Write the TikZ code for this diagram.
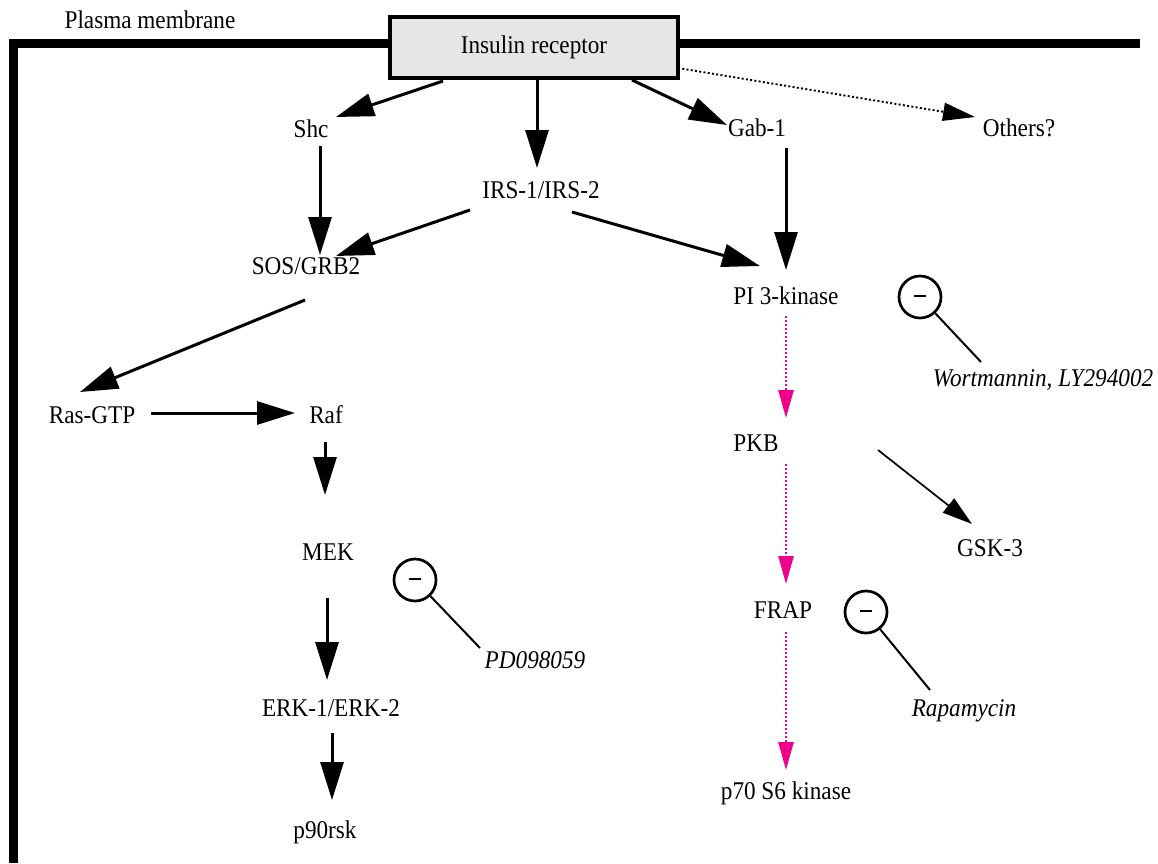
\documentclass[tikz,border=0pt]{standalone}
\usepackage{fontspec}
\setmainfont{Liberation Serif}[FakeStretch=0.91]
\usetikzlibrary{arrows.meta,calc}
\definecolor{magcol}{RGB}{236,0,140}
\definecolor{boxgray}{RGB}{230,230,230}
\tikzset{
  lbl/.style={inner sep=0pt, font=\fontsize{25.5}{29}\selectfont},
  drug/.style={lbl, font=\fontsize{25.5}{29}\selectfont\itshape},
  arr/.style={line width=3pt, -{Triangle[length=38pt,width=23pt]}},
  thinarr/.style={line width=1.7pt, -{Triangle[length=30pt,width=18pt]}},
  dotarr/.style={line width=1.9pt, dash pattern=on 2pt off 2.3pt, -{Triangle[length=32pt,width=18pt]}},
  magarr/.style={draw=magcol, line width=2.6pt, dash pattern=on 2pt off 2pt, -{Triangle[length=28pt,width=15pt,fill=magcol]}},
  inhib/.style={circle, draw, line width=2.7pt, minimum size=42pt, inner sep=0pt},
  inhline/.style={line width=2pt},
}
\begin{document}
\begin{tikzpicture}[x=1pt,y=-1pt]
\useasboundingbox (0,0) rectangle (1158,863);
% membrane
\draw[line width=9pt] (13,863) -- (13,43) -- (1140,43);
\node[lbl] (pm) at (150,20) {Plasma membrane};
\node[draw, line width=4pt, fill=boxgray, minimum width=288pt, minimum height=61pt, inner sep=0pt,
      font=\fontsize{25.5}{29}\selectfont] (ir) at (534,47.5) {Insulin receptor};
% nodes
\node[lbl] (shc) at (311,129) {Shc};
\node[lbl] (irs) at (541,190) {IRS-1/IRS-2};
\node[lbl] (gab) at (757,128) {Gab-1};
\node[lbl] (oth) at (1019,128) {Others?};
\node[lbl] (sos) at (306,266) {SOS/GRB2};
\node[lbl] (pi3k) at (786,296) {PI 3-kinase};
\node[lbl] (ras) at (92,415) {Ras-GTP};
\node[lbl] (raf) at (326,415) {Raf};
\node[lbl] (mek) at (328,552) {MEK};
\node[lbl] (erk) at (331,708) {ERK-1/ERK-2};
\node[lbl] (p90) at (325,832) {p90rsk};
\node[lbl] (pkb) at (756,443) {PKB};
\node[lbl] (gsk) at (990,548) {GSK-3};
\node[lbl] (frap) at (783,610) {FRAP};
\node[lbl] (p70) at (786,793) {p70 S6 kinase};
\node[drug] (wort) at (1043,380) {Wortmannin, LY294002};
\node[drug] (pd) at (535,660) {PD098059};
\node[drug] (rapa) at (964,711) {Rapamycin};
\node[inhib] (inh1) at (920,297) {};
\node[inhib] (inh2) at (415,580) {};
\node[inhib] (inh3) at (866,612) {};
\foreach \c in {inh1,inh2,inh3}{\draw[line width=1.4pt] ($(\c)+(-6,-1)$) -- ($(\c)+(6,-1)$);}
% connectors
\draw[arr] ($(ir)+(-91,33.5)$) -- ($(shc)+(25,-12)$);
\draw[arr] ($(ir)+(3,30.5)$) -- ($(irs)+(-4,-22)$);
\draw[arr] ($(ir)+(98,32.5)$) -- ($(gab)+(-30,-3)$);
\draw[dotarr] ($(ir)+(144,20.5)$) -- ($(oth)+(-44,-11)$);
\draw[arr] ($(shc)+(9,17)$) -- ($(sos)+(14,-11)$);
\draw[arr] ($(irs)+(-71,20)$) -- ($(sos)+(30,-10)$);
\draw[arr] ($(irs)+(31,22)$) -- ($(pi3k)+(-26,-30)$);
\draw[arr] ($(gab)+(29,20)$) -- ($(pi3k)+(0,-26)$);
\draw[arr] ($(sos)+(-1,34)$) -- ($(ras)+(-12,-23)$);
\draw[arr] ($(ras)+(59,-2)$) -- ($(raf)+(-31,-2)$);
\draw[arr] ($(raf)+(-1,27)$) -- ($(mek)+(-3,-57)$);
\draw[arr] ($(mek)+(-1,46)$) -- ($(erk)+(-4,-28)$);
\draw[arr] ($(erk)+(1,25)$) -- ($(p90)+(7,-32)$);
\draw[magarr] ($(pi3k)+(0,20)$) -- ($(pkb)+(30,-25)$);
\draw[magarr] ($(pkb)+(30,21)$) -- ($(frap)+(3,-26)$);
\draw[magarr] ($(frap)+(3,22)$) -- ($(p70)+(0,-23)$);
\draw[thinarr] ($(pkb)+(122,7)$) -- ($(gsk)+(-18,-24)$);
% inhibitor lines
\draw[inhline] (inh1) -- ($(wort)+(-62,-18)$);
\draw[inhline] (inh2) -- ($(pd)+(-55,-12)$);
\draw[inhline] (inh3) -- ($(rapa)+(-34,-21)$);
\end{tikzpicture}
\end{document}
